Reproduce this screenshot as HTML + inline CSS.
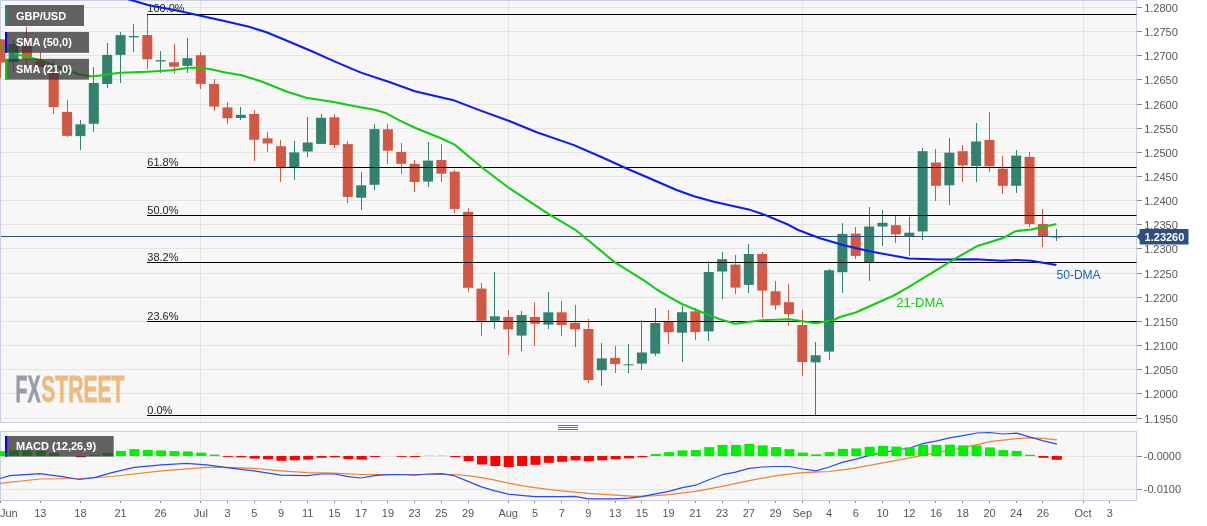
<!DOCTYPE html>
<html><head><meta charset="utf-8"><title>GBP/USD</title>
<style>html,body{margin:0;padding:0;background:#fff}svg{display:block}text{font-family:"Liberation Sans",Arial,sans-serif}</style></head><body>
<svg width="1207" height="526" viewBox="0 0 1207 526">
<defs><clipPath id="cm"><rect x="0" y="0" width="1137" height="423"/></clipPath><clipPath id="cd"><rect x="0" y="431" width="1137" height="70"/></clipPath></defs>
<rect x="0" y="0" width="1207" height="526" fill="#ffffff"/>
<rect x="0.5" y="0.5" width="1136" height="422" fill="#f7f7f7" stroke="#c9d0e6" stroke-width="1"/>
<rect x="0.5" y="431.5" width="1136" height="69" fill="#f7f7f7" stroke="#c9d0e6" stroke-width="1"/>
<g stroke="#e4e4e4" stroke-width="1" shape-rendering="crispEdges">
<line x1="1" y1="7.5" x2="1136" y2="7.5"/>
<line x1="1" y1="31.5" x2="1136" y2="31.5"/>
<line x1="1" y1="55.5" x2="1136" y2="55.5"/>
<line x1="1" y1="79.5" x2="1136" y2="79.5"/>
<line x1="1" y1="104.5" x2="1136" y2="104.5"/>
<line x1="1" y1="128.5" x2="1136" y2="128.5"/>
<line x1="1" y1="152.5" x2="1136" y2="152.5"/>
<line x1="1" y1="176.5" x2="1136" y2="176.5"/>
<line x1="1" y1="200.5" x2="1136" y2="200.5"/>
<line x1="1" y1="224.5" x2="1136" y2="224.5"/>
<line x1="1" y1="248.5" x2="1136" y2="248.5"/>
<line x1="1" y1="273.5" x2="1136" y2="273.5"/>
<line x1="1" y1="297.5" x2="1136" y2="297.5"/>
<line x1="1" y1="321.5" x2="1136" y2="321.5"/>
<line x1="1" y1="345.5" x2="1136" y2="345.5"/>
<line x1="1" y1="369.5" x2="1136" y2="369.5"/>
<line x1="1" y1="393.5" x2="1136" y2="393.5"/>
<line x1="1" y1="418.5" x2="1136" y2="418.5"/>
<line x1="1" y1="456.5" x2="1136" y2="456.5"/>
<line x1="1" y1="489.5" x2="1136" y2="489.5"/>
<line x1="200.5" y1="1" x2="200.5" y2="422"/>
<line x1="200.5" y1="432" x2="200.5" y2="500"/>
<line x1="508.5" y1="1" x2="508.5" y2="422"/>
<line x1="508.5" y1="432" x2="508.5" y2="500"/>
<line x1="802.5" y1="1" x2="802.5" y2="422"/>
<line x1="802.5" y1="432" x2="802.5" y2="500"/>
<line x1="1083.5" y1="1" x2="1083.5" y2="422"/>
<line x1="1083.5" y1="432" x2="1083.5" y2="500"/>
</g>
<g font-weight="bold" font-size="36.8px" stroke-width="0.8" stroke-linejoin="miter"><text x="15.5" y="402.3" textLength="25" lengthAdjust="spacingAndGlyphs" fill="#9a9ca6" stroke="#9a9ca6">FX</text><text x="41.3" y="402.3" textLength="83.2" lengthAdjust="spacingAndGlyphs" fill="#edbb7d" stroke="#edbb7d">STREET</text></g>
<g clip-path="url(#cm)">
<rect x="0" y="39.3" width="1" height="38.7" fill="#d25846" shape-rendering="crispEdges"/>
<rect x="-4.77" y="39.3" width="10" height="23.2" fill="#d25846"/>
<rect x="13" y="39.1" width="1" height="31.5" fill="#32826f" shape-rendering="crispEdges"/>
<rect x="8.60" y="44.0" width="10" height="18.0" fill="#32826f"/>
<rect x="26" y="27.4" width="1" height="36.4" fill="#d25846" shape-rendering="crispEdges"/>
<rect x="21.97" y="45.9" width="10" height="13.6" fill="#d25846"/>
<rect x="40" y="51.5" width="1" height="15.5" fill="#d25846" shape-rendering="crispEdges"/>
<rect x="35.34" y="61.3" width="10" height="5.7" fill="#d25846"/>
<rect x="53" y="60.1" width="1" height="54.3" fill="#d25846" shape-rendering="crispEdges"/>
<rect x="48.70" y="71.2" width="10" height="35.8" fill="#d25846"/>
<rect x="67" y="100.3" width="1" height="36.8" fill="#d25846" shape-rendering="crispEdges"/>
<rect x="62.07" y="111.9" width="10" height="24.0" fill="#d25846"/>
<rect x="80" y="120.0" width="1" height="29.5" fill="#32826f" shape-rendering="crispEdges"/>
<rect x="75.44" y="124.3" width="10" height="11.8" fill="#32826f"/>
<rect x="93" y="67.4" width="1" height="64.3" fill="#32826f" shape-rendering="crispEdges"/>
<rect x="88.81" y="83.0" width="10" height="40.8" fill="#32826f"/>
<rect x="107" y="42.5" width="1" height="45.9" fill="#32826f" shape-rendering="crispEdges"/>
<rect x="102.18" y="54.9" width="10" height="29.1" fill="#32826f"/>
<rect x="120" y="31.6" width="1" height="51.8" fill="#32826f" shape-rendering="crispEdges"/>
<rect x="115.54" y="35.1" width="10" height="19.8" fill="#32826f"/>
<rect x="133" y="23.5" width="1" height="28.9" fill="#32826f" shape-rendering="crispEdges"/>
<rect x="128.91" y="36.0" width="10" height="1.3" fill="#32826f"/>
<rect x="147" y="14.8" width="1" height="54.4" fill="#d25846" shape-rendering="crispEdges"/>
<rect x="142.28" y="35.1" width="10" height="24.2" fill="#d25846"/>
<rect x="160" y="51.4" width="1" height="21.5" fill="#32826f" shape-rendering="crispEdges"/>
<rect x="155.65" y="60.2" width="10" height="1.3" fill="#32826f"/>
<rect x="174" y="43.5" width="1" height="30.7" fill="#d25846" shape-rendering="crispEdges"/>
<rect x="169.02" y="62.3" width="10" height="4.4" fill="#d25846"/>
<rect x="187" y="38.3" width="1" height="34.6" fill="#32826f" shape-rendering="crispEdges"/>
<rect x="182.38" y="58.2" width="10" height="7.6" fill="#32826f"/>
<rect x="200" y="52.2" width="1" height="36.4" fill="#d25846" shape-rendering="crispEdges"/>
<rect x="195.75" y="55.2" width="10" height="28.7" fill="#d25846"/>
<rect x="214" y="79.4" width="1" height="31.7" fill="#d25846" shape-rendering="crispEdges"/>
<rect x="209.12" y="83.9" width="10" height="22.7" fill="#d25846"/>
<rect x="227" y="102.4" width="1" height="22.0" fill="#d25846" shape-rendering="crispEdges"/>
<rect x="222.49" y="107.4" width="10" height="10.9" fill="#d25846"/>
<rect x="240" y="107.4" width="1" height="12.1" fill="#32826f" shape-rendering="crispEdges"/>
<rect x="235.86" y="114.8" width="10" height="3.2" fill="#32826f"/>
<rect x="254" y="109.6" width="1" height="51.7" fill="#d25846" shape-rendering="crispEdges"/>
<rect x="249.22" y="114.0" width="10" height="25.8" fill="#d25846"/>
<rect x="267" y="132.1" width="1" height="20.3" fill="#d25846" shape-rendering="crispEdges"/>
<rect x="262.59" y="138.3" width="10" height="5.2" fill="#d25846"/>
<rect x="280" y="140.4" width="1" height="41.2" fill="#d25846" shape-rendering="crispEdges"/>
<rect x="275.96" y="146.2" width="10" height="21.0" fill="#d25846"/>
<rect x="294" y="141.3" width="1" height="38.3" fill="#32826f" shape-rendering="crispEdges"/>
<rect x="289.33" y="152.4" width="10" height="15.6" fill="#32826f"/>
<rect x="307" y="117.2" width="1" height="40.2" fill="#32826f" shape-rendering="crispEdges"/>
<rect x="302.70" y="142.5" width="10" height="9.0" fill="#32826f"/>
<rect x="321" y="113.5" width="1" height="30.4" fill="#32826f" shape-rendering="crispEdges"/>
<rect x="316.06" y="117.8" width="10" height="26.1" fill="#32826f"/>
<rect x="334" y="113.5" width="1" height="34.0" fill="#d25846" shape-rendering="crispEdges"/>
<rect x="329.43" y="117.3" width="10" height="27.7" fill="#d25846"/>
<rect x="347" y="141.4" width="1" height="61.2" fill="#d25846" shape-rendering="crispEdges"/>
<rect x="342.80" y="144.1" width="10" height="52.8" fill="#d25846"/>
<rect x="361" y="172.4" width="1" height="37.1" fill="#32826f" shape-rendering="crispEdges"/>
<rect x="356.17" y="185.3" width="10" height="12.4" fill="#32826f"/>
<rect x="374" y="123.5" width="1" height="66.0" fill="#32826f" shape-rendering="crispEdges"/>
<rect x="369.54" y="129.1" width="10" height="55.7" fill="#32826f"/>
<rect x="387" y="124.4" width="1" height="39.1" fill="#d25846" shape-rendering="crispEdges"/>
<rect x="382.90" y="129.3" width="10" height="21.4" fill="#d25846"/>
<rect x="401" y="142.5" width="1" height="31.7" fill="#d25846" shape-rendering="crispEdges"/>
<rect x="396.27" y="151.9" width="10" height="11.9" fill="#d25846"/>
<rect x="414" y="160.0" width="1" height="32.2" fill="#d25846" shape-rendering="crispEdges"/>
<rect x="409.64" y="163.8" width="10" height="18.2" fill="#d25846"/>
<rect x="428" y="141.5" width="1" height="45.8" fill="#32826f" shape-rendering="crispEdges"/>
<rect x="423.01" y="160.6" width="10" height="21.0" fill="#32826f"/>
<rect x="441" y="143.8" width="1" height="38.2" fill="#d25846" shape-rendering="crispEdges"/>
<rect x="436.38" y="160.0" width="10" height="13.7" fill="#d25846"/>
<rect x="454" y="169.7" width="1" height="42.8" fill="#d25846" shape-rendering="crispEdges"/>
<rect x="449.74" y="171.7" width="10" height="37.2" fill="#d25846"/>
<rect x="468" y="208.2" width="1" height="83.3" fill="#d25846" shape-rendering="crispEdges"/>
<rect x="463.11" y="211.8" width="10" height="76.0" fill="#d25846"/>
<rect x="481" y="283.2" width="1" height="53.2" fill="#d25846" shape-rendering="crispEdges"/>
<rect x="476.48" y="288.6" width="10" height="32.2" fill="#d25846"/>
<rect x="494" y="272.4" width="1" height="57.0" fill="#32826f" shape-rendering="crispEdges"/>
<rect x="489.85" y="316.3" width="10" height="4.5" fill="#32826f"/>
<rect x="508" y="310.2" width="1" height="44.7" fill="#d25846" shape-rendering="crispEdges"/>
<rect x="503.22" y="317.0" width="10" height="12.4" fill="#d25846"/>
<rect x="521" y="311.3" width="1" height="39.2" fill="#32826f" shape-rendering="crispEdges"/>
<rect x="516.58" y="315.1" width="10" height="20.5" fill="#32826f"/>
<rect x="534" y="302.2" width="1" height="43.3" fill="#d25846" shape-rendering="crispEdges"/>
<rect x="529.95" y="317.0" width="10" height="6.7" fill="#d25846"/>
<rect x="548" y="292.0" width="1" height="37.4" fill="#32826f" shape-rendering="crispEdges"/>
<rect x="543.32" y="312.3" width="10" height="12.3" fill="#32826f"/>
<rect x="561" y="301.2" width="1" height="34.4" fill="#d25846" shape-rendering="crispEdges"/>
<rect x="556.69" y="312.3" width="10" height="12.7" fill="#d25846"/>
<rect x="575" y="305.1" width="1" height="42.1" fill="#d25846" shape-rendering="crispEdges"/>
<rect x="570.06" y="322.8" width="10" height="6.6" fill="#d25846"/>
<rect x="588" y="319.1" width="1" height="63.5" fill="#d25846" shape-rendering="crispEdges"/>
<rect x="583.42" y="329.0" width="10" height="51.1" fill="#d25846"/>
<rect x="601" y="342.5" width="1" height="43.8" fill="#32826f" shape-rendering="crispEdges"/>
<rect x="596.79" y="358.4" width="10" height="11.8" fill="#32826f"/>
<rect x="615" y="346.3" width="1" height="27.1" fill="#d25846" shape-rendering="crispEdges"/>
<rect x="610.16" y="357.9" width="10" height="6.2" fill="#d25846"/>
<rect x="628" y="344.3" width="1" height="28.4" fill="#32826f" shape-rendering="crispEdges"/>
<rect x="623.53" y="364.3" width="10" height="1.0" fill="#32826f"/>
<rect x="641" y="320.3" width="1" height="49.2" fill="#32826f" shape-rendering="crispEdges"/>
<rect x="636.90" y="352.5" width="10" height="11.1" fill="#32826f"/>
<rect x="655" y="308.3" width="1" height="48.1" fill="#32826f" shape-rendering="crispEdges"/>
<rect x="650.26" y="323.0" width="10" height="30.6" fill="#32826f"/>
<rect x="668" y="310.2" width="1" height="33.3" fill="#d25846" shape-rendering="crispEdges"/>
<rect x="663.63" y="321.7" width="10" height="10.5" fill="#d25846"/>
<rect x="682" y="305.8" width="1" height="56.6" fill="#32826f" shape-rendering="crispEdges"/>
<rect x="677.00" y="312.2" width="10" height="20.5" fill="#32826f"/>
<rect x="695" y="308.4" width="1" height="31.2" fill="#d25846" shape-rendering="crispEdges"/>
<rect x="690.37" y="311.4" width="10" height="20.7" fill="#d25846"/>
<rect x="708" y="261.4" width="1" height="79.9" fill="#32826f" shape-rendering="crispEdges"/>
<rect x="703.74" y="272.0" width="10" height="59.4" fill="#32826f"/>
<rect x="722" y="251.5" width="1" height="47.7" fill="#32826f" shape-rendering="crispEdges"/>
<rect x="717.10" y="259.2" width="10" height="12.3" fill="#32826f"/>
<rect x="735" y="254.7" width="1" height="38.8" fill="#d25846" shape-rendering="crispEdges"/>
<rect x="730.47" y="264.6" width="10" height="23.0" fill="#d25846"/>
<rect x="748" y="244.3" width="1" height="48.2" fill="#32826f" shape-rendering="crispEdges"/>
<rect x="743.84" y="254.0" width="10" height="30.9" fill="#32826f"/>
<rect x="762" y="251.8" width="1" height="66.5" fill="#d25846" shape-rendering="crispEdges"/>
<rect x="757.21" y="254.0" width="10" height="36.6" fill="#d25846"/>
<rect x="775" y="281.2" width="1" height="29.1" fill="#d25846" shape-rendering="crispEdges"/>
<rect x="770.58" y="291.3" width="10" height="14.1" fill="#d25846"/>
<rect x="788" y="284.4" width="1" height="42.0" fill="#d25846" shape-rendering="crispEdges"/>
<rect x="783.94" y="302.2" width="10" height="11.9" fill="#d25846"/>
<rect x="802" y="309.6" width="1" height="66.7" fill="#d25846" shape-rendering="crispEdges"/>
<rect x="797.31" y="325.0" width="10" height="37.0" fill="#d25846"/>
<rect x="815" y="342.3" width="1" height="72.4" fill="#32826f" shape-rendering="crispEdges"/>
<rect x="810.68" y="355.3" width="10" height="7.0" fill="#32826f"/>
<rect x="829" y="268.8" width="1" height="90.7" fill="#32826f" shape-rendering="crispEdges"/>
<rect x="824.05" y="270.3" width="10" height="81.3" fill="#32826f"/>
<rect x="842" y="222.5" width="1" height="70.0" fill="#32826f" shape-rendering="crispEdges"/>
<rect x="837.42" y="233.9" width="10" height="38.3" fill="#32826f"/>
<rect x="855" y="226.5" width="1" height="32.6" fill="#d25846" shape-rendering="crispEdges"/>
<rect x="850.78" y="233.6" width="10" height="22.3" fill="#d25846"/>
<rect x="869" y="207.2" width="1" height="74.2" fill="#32826f" shape-rendering="crispEdges"/>
<rect x="864.15" y="226.5" width="10" height="35.6" fill="#32826f"/>
<rect x="882" y="210.4" width="1" height="35.9" fill="#32826f" shape-rendering="crispEdges"/>
<rect x="877.52" y="222.8" width="10" height="3.7" fill="#32826f"/>
<rect x="895" y="214.6" width="1" height="28.4" fill="#d25846" shape-rendering="crispEdges"/>
<rect x="890.89" y="225.2" width="10" height="9.2" fill="#d25846"/>
<rect x="909" y="216.6" width="1" height="39.5" fill="#32826f" shape-rendering="crispEdges"/>
<rect x="904.26" y="232.7" width="10" height="3.4" fill="#32826f"/>
<rect x="922" y="148.2" width="1" height="91.9" fill="#32826f" shape-rendering="crispEdges"/>
<rect x="917.62" y="151.2" width="10" height="80.2" fill="#32826f"/>
<rect x="935" y="149.4" width="1" height="52.0" fill="#d25846" shape-rendering="crispEdges"/>
<rect x="930.99" y="162.5" width="10" height="23.3" fill="#d25846"/>
<rect x="949" y="138.3" width="1" height="66.3" fill="#32826f" shape-rendering="crispEdges"/>
<rect x="944.36" y="152.7" width="10" height="32.6" fill="#32826f"/>
<rect x="962" y="145.2" width="1" height="36.4" fill="#d25846" shape-rendering="crispEdges"/>
<rect x="957.73" y="151.2" width="10" height="14.3" fill="#d25846"/>
<rect x="976" y="123.0" width="1" height="59.3" fill="#32826f" shape-rendering="crispEdges"/>
<rect x="971.10" y="141.5" width="10" height="24.5" fill="#32826f"/>
<rect x="989" y="111.9" width="1" height="60.5" fill="#d25846" shape-rendering="crispEdges"/>
<rect x="984.46" y="140.0" width="10" height="26.3" fill="#d25846"/>
<rect x="1002" y="156.4" width="1" height="38.0" fill="#d25846" shape-rendering="crispEdges"/>
<rect x="997.83" y="168.7" width="10" height="17.1" fill="#d25846"/>
<rect x="1016" y="150.2" width="1" height="43.2" fill="#32826f" shape-rendering="crispEdges"/>
<rect x="1011.20" y="155.6" width="10" height="30.2" fill="#32826f"/>
<rect x="1029" y="151.9" width="1" height="75.4" fill="#d25846" shape-rendering="crispEdges"/>
<rect x="1024.57" y="156.9" width="10" height="67.2" fill="#d25846"/>
<rect x="1042" y="209.0" width="1" height="38.4" fill="#d25846" shape-rendering="crispEdges"/>
<rect x="1037.94" y="224.0" width="10" height="12.3" fill="#d25846"/>
<rect x="1056" y="228.9" width="1" height="11.6" fill="#32826f" shape-rendering="crispEdges"/>
<rect x="1051.30" y="236.5" width="10" height="1.0" fill="#32826f"/>
</g>
<g stroke="#000" stroke-width="1.2">
<line x1="147" y1="14.5" x2="1136.5" y2="14.5"/>
<line x1="147" y1="167.5" x2="1136.5" y2="167.5"/>
<line x1="147" y1="215.5" x2="1136.5" y2="215.5"/>
<line x1="147" y1="262.5" x2="1136.5" y2="262.5"/>
<line x1="147" y1="321.5" x2="1136.5" y2="321.5"/>
<line x1="147" y1="415.5" x2="1136.5" y2="415.5"/>
</g>
<g font-size="11px" fill="#222">
<text x="147.3" y="12.0">100.0%</text>
<text x="147.3" y="165.5">61.8%</text>
<text x="147.3" y="213.5">50.0%</text>
<text x="147.3" y="260.5">38.2%</text>
<text x="147.3" y="319.5">23.6%</text>
<text x="147.3" y="413.5">0.0%</text>
</g>
<line x1="1" y1="236.5" x2="1137" y2="236.5" stroke="#2f4f7f" stroke-width="1" shape-rendering="crispEdges"/>
<g clip-path="url(#cm)" fill="none" stroke-linejoin="round" stroke-linecap="butt" stroke-width="2.05">
<polyline stroke="#0a1cf2" points="100.0,-9.0 131.0,0.0 149.7,5.5 174.6,9.9 199.4,15.4 224.3,21.1 249.1,26.8 266.5,32.3 286.4,40.5 311.3,51.0 336.1,62.1 361.0,72.6 390.0,82.3 414.9,91.2 454.6,100.6 482.0,111.1 509.3,121.0 536.7,132.2 574.0,145.1 601.3,157.0 626.1,168.2 653.5,180.0 676.6,190.0 694.0,196.2 713.9,201.7 748.7,209.4 766.1,215.4 788.5,224.8 798.2,230.0 820.0,238.2 844.7,245.5 869.4,251.2 909.0,258.6 938.7,259.6 975.6,259.2 1002.3,260.7 1015.6,259.9 1031.2,260.7 1056.4,265.0"/>
<polyline stroke="#10cc10" points="0.0,46.7 19.3,54.9 40.0,60.0 59.3,67.5 78.6,74.2 92.0,76.4 100.0,75.5 119.9,72.8 147.2,71.8 172.0,70.3 187.0,67.9 199.4,67.6 211.9,69.6 224.3,72.3 241.7,75.3 261.6,81.5 286.4,91.5 306.3,97.7 333.7,101.9 353.5,106.1 373.4,109.4 385.9,113.1 400.0,120.6 414.9,127.7 439.7,137.7 454.6,144.6 482.0,167.5 509.3,188.2 549.8,214.9 574.7,229.3 584.6,237.2 614.5,262.1 644.3,280.7 657.4,290.0 669.1,296.9 682.0,304.0 696.9,310.2 719.0,318.9 735.3,323.8 761.8,320.3 789.0,319.3 816.0,323.3 833.5,320.0 840.0,317.0 855.7,312.5 892.8,296.0 909.0,286.8 953.5,259.6 976.7,246.3 1002.3,238.3 1015.6,231.2 1031.2,229.4 1056.4,224.0"/>
</g>
<text x="896.3" y="306.8" font-size="13px" fill="#0fcc0f">21-DMA</text>
<text x="1056.6" y="279" font-size="12px" fill="#1f5fbf">50-DMA</text>
<g clip-path="url(#cd)" fill="none" stroke-linejoin="round" stroke-width="1.2">
<polyline stroke="#f08234" points="0.0,483.4 39.8,479.0 79.5,478.5 111.9,476.5 161.6,470.8 206.3,467.3 228.7,467.3 253.5,468.3 280.9,470.8 307.4,472.7 334.2,473.2 360.8,474.5 387.7,474.5 414.3,474.5 441.1,474.5 454.0,474.5 468.0,475.7 481.4,477.7 495.0,480.2 508.2,483.2 521.2,485.7 534.8,487.7 548.5,489.4 561.7,490.9 574.6,492.1 588.7,493.4 615.3,495.1 635.0,496.4 655.4,495.6 668.8,494.6 695.6,491.4 722.4,486.4 749.1,480.7 775.9,475.7 802.6,472.7 816.0,472.2 829.4,471.5 842.8,469.8 856.2,467.8 869.5,465.3 882.9,462.8 909.8,457.8 936.4,452.9 963.0,447.9 989.8,441.7 1016.7,438.7 1030.3,437.9 1043.5,438.4 1056.9,439.9"/>
<polyline stroke="#2a4af2" points="0.0,478.5 10.0,475.7 39.8,473.7 62.0,476.7 79.5,479.5 94.5,477.7 111.9,472.7 134.2,467.3 161.6,464.8 186.4,463.3 206.3,464.8 228.7,467.8 253.5,470.8 280.9,475.2 294.0,475.4 307.4,475.7 321.0,474.0 334.2,474.0 348.4,476.7 360.8,478.0 374.5,475.7 387.7,474.7 401.9,474.5 414.3,475.2 428.0,474.0 441.1,473.7 454.0,475.7 468.0,481.4 481.4,486.9 495.0,490.9 508.2,494.1 521.2,495.4 534.8,496.6 548.5,496.6 561.7,496.6 574.6,496.4 588.7,498.8 615.3,498.8 628.7,498.1 642.0,496.6 655.4,493.9 668.8,491.4 682.2,487.7 695.6,485.2 709.0,479.7 722.4,474.7 735.7,472.2 749.1,468.3 762.5,467.0 775.9,466.5 789.2,466.5 802.6,469.0 816.0,470.8 829.4,467.0 842.8,462.1 856.2,459.1 869.5,455.3 882.9,452.5 896.3,450.0 909.7,448.0 923.4,443.4 935.9,441.2 949.5,437.9 963.2,435.7 976.9,433.0 989.8,432.5 1003.0,434.0 1016.7,433.2 1030.3,437.2 1043.5,440.9 1056.9,444.2"/>
</g>
<g clip-path="url(#cd)">
<rect x="-4.268000000000001" y="451.1" width="10" height="4.9" fill="#00f000"/>
<rect x="9.1" y="450.4" width="10" height="5.6" fill="#00f000"/>
<rect x="22.468" y="450.4" width="10" height="5.6" fill="#00f000"/>
<rect x="35.836" y="450.9" width="10" height="5.1" fill="#00f000"/>
<rect x="49.204" y="452.9" width="10" height="3.1" fill="#00f000"/>
<rect x="75.94" y="456.0" width="10" height="1.2" fill="#ff0000"/>
<rect x="89.30799999999999" y="455.1" width="10" height="0.9" fill="#00f000"/>
<rect x="102.676" y="452.9" width="10" height="3.1" fill="#00f000"/>
<rect x="116.044" y="450.9" width="10" height="5.1" fill="#00f000"/>
<rect x="129.412" y="449.1" width="10" height="6.9" fill="#00f000"/>
<rect x="142.78" y="449.9" width="10" height="6.1" fill="#00f000"/>
<rect x="156.148" y="450.4" width="10" height="5.6" fill="#00f000"/>
<rect x="169.516" y="451.1" width="10" height="4.9" fill="#00f000"/>
<rect x="182.884" y="451.4" width="10" height="4.6" fill="#00f000"/>
<rect x="196.252" y="452.6" width="10" height="3.4" fill="#00f000"/>
<rect x="209.62" y="454.6" width="10" height="1.4" fill="#00f000"/>
<rect x="222.988" y="456.0" width="10" height="0.9" fill="#ff0000"/>
<rect x="236.356" y="456.0" width="10" height="1.3" fill="#ff0000"/>
<rect x="249.724" y="456.0" width="10" height="2.6" fill="#ff0000"/>
<rect x="263.09200000000004" y="456.0" width="10" height="3.3" fill="#ff0000"/>
<rect x="276.46000000000004" y="456.0" width="10" height="4.8" fill="#ff0000"/>
<rect x="289.82800000000003" y="456.0" width="10" height="4.3" fill="#ff0000"/>
<rect x="303.196" y="456.0" width="10" height="3.6" fill="#ff0000"/>
<rect x="316.564" y="456.0" width="10" height="1.8" fill="#ff0000"/>
<rect x="329.932" y="456.0" width="10" height="1.3" fill="#ff0000"/>
<rect x="343.3" y="456.0" width="10" height="3.1" fill="#ff0000"/>
<rect x="356.668" y="456.0" width="10" height="3.6" fill="#ff0000"/>
<rect x="370.03600000000006" y="456.0" width="10" height="1.0" fill="#ff0000"/>
<rect x="396.77200000000005" y="456.0" width="10" height="0.9" fill="#ff0000"/>
<rect x="410.14000000000004" y="456.0" width="10" height="1.0" fill="#ff0000"/>
<rect x="423.50800000000004" y="455.1" width="10" height="0.9" fill="#b4ecb4"/>
<rect x="436.87600000000003" y="455.1" width="10" height="0.9" fill="#b4ecb4"/>
<rect x="450.244" y="456.0" width="10" height="1.1" fill="#ff0000"/>
<rect x="463.612" y="456.0" width="10" height="5.1" fill="#ff0000"/>
<rect x="476.98" y="456.0" width="10" height="8.5" fill="#ff0000"/>
<rect x="490.348" y="456.0" width="10" height="10.0" fill="#ff0000"/>
<rect x="503.716" y="456.0" width="10" height="11.0" fill="#ff0000"/>
<rect x="517.0840000000001" y="456.0" width="10" height="10.0" fill="#ff0000"/>
<rect x="530.452" y="456.0" width="10" height="8.8" fill="#ff0000"/>
<rect x="543.82" y="456.0" width="10" height="6.8" fill="#ff0000"/>
<rect x="557.188" y="456.0" width="10" height="5.8" fill="#ff0000"/>
<rect x="570.556" y="456.0" width="10" height="4.3" fill="#ff0000"/>
<rect x="583.9240000000001" y="456.0" width="10" height="5.3" fill="#ff0000"/>
<rect x="597.292" y="456.0" width="10" height="4.3" fill="#ff0000"/>
<rect x="610.6600000000001" y="456.0" width="10" height="3.3" fill="#ff0000"/>
<rect x="624.028" y="456.0" width="10" height="2.3" fill="#ff0000"/>
<rect x="637.3960000000001" y="456.0" width="10" height="1.2" fill="#ff0000"/>
<rect x="650.764" y="453.9" width="10" height="2.1" fill="#00f000"/>
<rect x="664.1320000000001" y="452.1" width="10" height="3.9" fill="#00f000"/>
<rect x="677.5" y="450.4" width="10" height="5.6" fill="#00f000"/>
<rect x="690.868" y="450.1" width="10" height="5.9" fill="#00f000"/>
<rect x="704.236" y="447.1" width="10" height="8.9" fill="#00f000"/>
<rect x="717.604" y="444.9" width="10" height="11.1" fill="#00f000"/>
<rect x="730.9720000000001" y="444.9" width="10" height="11.1" fill="#00f000"/>
<rect x="744.34" y="443.9" width="10" height="12.1" fill="#00f000"/>
<rect x="757.7080000000001" y="445.4" width="10" height="10.6" fill="#00f000"/>
<rect x="771.076" y="447.1" width="10" height="8.9" fill="#00f000"/>
<rect x="784.4440000000001" y="449.1" width="10" height="6.9" fill="#00f000"/>
<rect x="797.812" y="452.6" width="10" height="3.4" fill="#00f000"/>
<rect x="811.1800000000001" y="454.3" width="10" height="1.7" fill="#00f000"/>
<rect x="824.548" y="452.1" width="10" height="3.9" fill="#00f000"/>
<rect x="837.916" y="448.9" width="10" height="7.1" fill="#00f000"/>
<rect x="851.284" y="448.4" width="10" height="7.6" fill="#00f000"/>
<rect x="864.652" y="446.8" width="10" height="9.2" fill="#00f000"/>
<rect x="878.0200000000001" y="445.9" width="10" height="10.1" fill="#00f000"/>
<rect x="891.388" y="446.6" width="10" height="9.4" fill="#00f000"/>
<rect x="904.7560000000001" y="447.4" width="10" height="8.6" fill="#00f000"/>
<rect x="918.124" y="444.7" width="10" height="11.3" fill="#00f000"/>
<rect x="931.4920000000001" y="444.9" width="10" height="11.1" fill="#00f000"/>
<rect x="944.86" y="444.7" width="10" height="11.3" fill="#00f000"/>
<rect x="958.2280000000001" y="445.4" width="10" height="10.6" fill="#00f000"/>
<rect x="971.596" y="445.4" width="10" height="10.6" fill="#00f000"/>
<rect x="984.964" y="447.4" width="10" height="8.6" fill="#00f000"/>
<rect x="998.332" y="450.1" width="10" height="5.9" fill="#00f000"/>
<rect x="1011.7" y="450.9" width="10" height="5.1" fill="#00f000"/>
<rect x="1025.068" y="454.8" width="10" height="1.2" fill="#00f000"/>
<rect x="1038.436" y="456.0" width="10" height="1.8" fill="#ff0000"/>
<rect x="1051.8039999999999" y="456.0" width="10" height="3.8" fill="#ff0000"/>
</g>
<rect x="5" y="5" width="79" height="21" fill="#333333" fill-opacity="0.76"/>
<rect x="5" y="5" width="2.2" height="21" fill="#32826f"/>
<text x="16" y="20" font-size="11px" font-weight="bold" fill="#ffffff">GBP/USD</text>
<rect x="5" y="32" width="84" height="20.8" fill="#333333" fill-opacity="0.76"/>
<rect x="5" y="32" width="2.2" height="20.8" fill="#0000ff"/>
<text x="16" y="45.8" font-size="11px" font-weight="bold" fill="#ffffff">SMA (50,0)</text>
<rect x="5" y="58.8" width="84" height="20.8" fill="#333333" fill-opacity="0.76"/>
<rect x="5" y="58.8" width="2.2" height="20.8" fill="#00d000"/>
<text x="16" y="72.7" font-size="11px" font-weight="bold" fill="#ffffff">SMA (21,0)</text>
<rect x="5" y="436" width="108.7" height="20.6" fill="#333333" fill-opacity="0.76"/>
<rect x="5" y="436" width="2.2" height="20.6" fill="#0000ff"/>
<text x="16" y="450.3" font-size="11px" font-weight="bold" fill="#ffffff">MACD (12,26,9)</text>
<g stroke="#6f6b6b" stroke-width="1" shape-rendering="crispEdges">
<line x1="558" y1="425.5" x2="578" y2="425.5"/>
<line x1="558" y1="427.5" x2="578" y2="427.5"/>
<line x1="558" y1="429.5" x2="578" y2="429.5"/>
</g>
<g stroke="#8a8a8a" stroke-width="1" shape-rendering="crispEdges">
<line x1="1137" y1="7.5" x2="1142" y2="7.5"/>
<line x1="1137" y1="31.5" x2="1142" y2="31.5"/>
<line x1="1137" y1="55.5" x2="1142" y2="55.5"/>
<line x1="1137" y1="79.5" x2="1142" y2="79.5"/>
<line x1="1137" y1="104.5" x2="1142" y2="104.5"/>
<line x1="1137" y1="128.5" x2="1142" y2="128.5"/>
<line x1="1137" y1="152.5" x2="1142" y2="152.5"/>
<line x1="1137" y1="176.5" x2="1142" y2="176.5"/>
<line x1="1137" y1="200.5" x2="1142" y2="200.5"/>
<line x1="1137" y1="224.5" x2="1142" y2="224.5"/>
<line x1="1137" y1="248.5" x2="1142" y2="248.5"/>
<line x1="1137" y1="273.5" x2="1142" y2="273.5"/>
<line x1="1137" y1="297.5" x2="1142" y2="297.5"/>
<line x1="1137" y1="321.5" x2="1142" y2="321.5"/>
<line x1="1137" y1="345.5" x2="1142" y2="345.5"/>
<line x1="1137" y1="369.5" x2="1142" y2="369.5"/>
<line x1="1137" y1="393.5" x2="1142" y2="393.5"/>
<line x1="1137" y1="418.5" x2="1142" y2="418.5"/>
<line x1="1137" y1="456.5" x2="1142" y2="456.5"/>
<line x1="1137" y1="489.5" x2="1142" y2="489.5"/>
</g>
<g font-size="11px" fill="#555555">
<text x="1144.2" y="11.6">1.2800</text>
<text x="1144.2" y="35.6">1.2750</text>
<text x="1144.2" y="59.6">1.2700</text>
<text x="1144.2" y="83.6">1.2650</text>
<text x="1144.2" y="108.6">1.2600</text>
<text x="1144.2" y="132.6">1.2550</text>
<text x="1144.2" y="156.6">1.2500</text>
<text x="1144.2" y="180.6">1.2450</text>
<text x="1144.2" y="204.6">1.2400</text>
<text x="1144.2" y="228.6">1.2350</text>
<text x="1144.2" y="252.6">1.2300</text>
<text x="1144.2" y="277.6">1.2250</text>
<text x="1144.2" y="301.6">1.2200</text>
<text x="1144.2" y="325.6">1.2150</text>
<text x="1144.2" y="349.6">1.2100</text>
<text x="1144.2" y="373.6">1.2050</text>
<text x="1144.2" y="397.6">1.2000</text>
<text x="1144.2" y="422.6">1.1950</text>
<text x="1143.8" y="460.3">-0.0000</text><text x="1143.8" y="493.3">-0.0100</text>
</g>
<path d="M1136.6 236.5 L1139.6 233 L1139.6 229 L1188.5 229 L1188.5 244.5 L1139.6 244.5 L1139.6 240 Z" fill="#2f4f7f"/>
<text x="1144.6" y="240.8" font-size="11px" font-weight="bold" fill="#ffffff">1.23260</text>
<g stroke="#8a8a8a" stroke-width="1" shape-rendering="crispEdges">
<line x1="0.5" y1="500.5" x2="0.5" y2="503"/>
<line x1="40.5" y1="500.5" x2="40.5" y2="503"/>
<line x1="80.5" y1="500.5" x2="80.5" y2="503"/>
<line x1="120.5" y1="500.5" x2="120.5" y2="503"/>
<line x1="160.5" y1="500.5" x2="160.5" y2="503"/>
<line x1="200.5" y1="500.5" x2="200.5" y2="503"/>
<line x1="227.5" y1="500.5" x2="227.5" y2="503"/>
<line x1="254.5" y1="500.5" x2="254.5" y2="503"/>
<line x1="280.5" y1="500.5" x2="280.5" y2="503"/>
<line x1="307.5" y1="500.5" x2="307.5" y2="503"/>
<line x1="334.5" y1="500.5" x2="334.5" y2="503"/>
<line x1="361.5" y1="500.5" x2="361.5" y2="503"/>
<line x1="387.5" y1="500.5" x2="387.5" y2="503"/>
<line x1="414.5" y1="500.5" x2="414.5" y2="503"/>
<line x1="441.5" y1="500.5" x2="441.5" y2="503"/>
<line x1="468.5" y1="500.5" x2="468.5" y2="503"/>
<line x1="508.5" y1="500.5" x2="508.5" y2="503"/>
<line x1="534.5" y1="500.5" x2="534.5" y2="503"/>
<line x1="561.5" y1="500.5" x2="561.5" y2="503"/>
<line x1="588.5" y1="500.5" x2="588.5" y2="503"/>
<line x1="615.5" y1="500.5" x2="615.5" y2="503"/>
<line x1="641.5" y1="500.5" x2="641.5" y2="503"/>
<line x1="668.5" y1="500.5" x2="668.5" y2="503"/>
<line x1="695.5" y1="500.5" x2="695.5" y2="503"/>
<line x1="722.5" y1="500.5" x2="722.5" y2="503"/>
<line x1="748.5" y1="500.5" x2="748.5" y2="503"/>
<line x1="775.5" y1="500.5" x2="775.5" y2="503"/>
<line x1="802.5" y1="500.5" x2="802.5" y2="503"/>
<line x1="829.5" y1="500.5" x2="829.5" y2="503"/>
<line x1="855.5" y1="500.5" x2="855.5" y2="503"/>
<line x1="882.5" y1="500.5" x2="882.5" y2="503"/>
<line x1="909.5" y1="500.5" x2="909.5" y2="503"/>
<line x1="935.5" y1="500.5" x2="935.5" y2="503"/>
<line x1="962.5" y1="500.5" x2="962.5" y2="503"/>
<line x1="989.5" y1="500.5" x2="989.5" y2="503"/>
<line x1="1016.5" y1="500.5" x2="1016.5" y2="503"/>
<line x1="1042.5" y1="500.5" x2="1042.5" y2="503"/>
<line x1="1083.5" y1="500.5" x2="1083.5" y2="503"/>
<line x1="1109.5" y1="500.5" x2="1109.5" y2="503"/>
</g>
<g font-size="11px" fill="#555555" text-anchor="middle">
<text x="0" y="517" text-anchor="start">Jun</text>
<text x="40.3" y="517">13</text>
<text x="80.4" y="517">18</text>
<text x="120.5" y="517">21</text>
<text x="160.6" y="517">26</text>
<text x="200.8" y="517">Jul</text>
<text x="227.5" y="517">3</text>
<text x="254.2" y="517">5</text>
<text x="281.0" y="517">9</text>
<text x="307.7" y="517">11</text>
<text x="334.4" y="517">15</text>
<text x="361.2" y="517">17</text>
<text x="387.9" y="517">19</text>
<text x="414.6" y="517">23</text>
<text x="441.4" y="517">25</text>
<text x="468.1" y="517">29</text>
<text x="508.2" y="517">Aug</text>
<text x="535.0" y="517">5</text>
<text x="561.7" y="517">7</text>
<text x="588.4" y="517">9</text>
<text x="615.2" y="517">13</text>
<text x="641.9" y="517">15</text>
<text x="668.6" y="517">19</text>
<text x="695.4" y="517">21</text>
<text x="722.1" y="517">23</text>
<text x="748.8" y="517">27</text>
<text x="775.6" y="517">29</text>
<text x="802.3" y="517">Sep</text>
<text x="829.0" y="517">4</text>
<text x="855.8" y="517">6</text>
<text x="882.5" y="517">10</text>
<text x="909.3" y="517">12</text>
<text x="936.0" y="517">16</text>
<text x="962.7" y="517">18</text>
<text x="989.5" y="517">20</text>
<text x="1016.2" y="517">24</text>
<text x="1042.9" y="517">26</text>
<text x="1083.0" y="517">Oct</text>
<text x="1109.8" y="517">3</text>
</g>
</svg></body></html>
